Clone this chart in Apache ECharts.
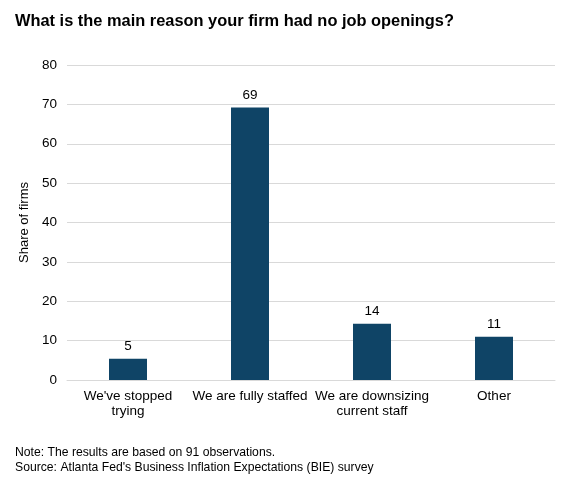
<!DOCTYPE html>
<html>
<head>
<meta charset="utf-8">
<script src="https://cdn.jsdelivr.net/npm/echarts@6/dist/echarts.min.js"></script>
<style>
  html, body { margin: 0; padding: 0; background: #fff; }
  #container { width: 574px; height: 488px; }
</style>
</head>
<body>
<div id="container"></div>
<script>
// categories and values (share of firms, %)
const categories = ["We've stopped\ntrying", 'We are fully staffed', 'We are downsizing\ncurrent staff', 'Other']
const shares = [5.4, 69.2, 14.3, 11.0]
const yTicks = { min: 0, max: 80, interval: 10 }

const font = '"Liberation Sans", Arial, sans-serif'
const myChart = echarts.init(document.getElementById('container'))

const option = {
  backgroundColor: '#fff',
  textStyle: { fontFamily: font },
  title: [
    {
      text: 'What is the main reason your firm had no job openings?',
      left: 10,
      top: 8,
      textStyle: { fontSize: 16.4, fontWeight: 'bold', color: '#000', fontFamily: font }
    },
    {
      text: "Note: The results are based on 91 observations.\nSource: Atlanta Fed's Business Inflation Expectations (BIE) survey",
      left: 10,
      top: 440,
      textStyle: { fontSize: 12.2, fontWeight: 'normal', color: '#000', lineHeight: 15, fontFamily: font }
    }
  ],
  grid: { left: 67, right: 19, top: 65, bottom: 108, containLabel: false },
  xAxis: {
    type: 'category',
    data: categories,
    axisLine: { lineStyle: { color: '#d9d9d9' } },
    axisTick: { show: false },
    axisLabel: { color: '#000', fontSize: 13.5, lineHeight: 15, margin: 9, interval: 0 }
  },
  yAxis: {
    type: 'value',
    min: yTicks.min,
    max: yTicks.max,
    interval: yTicks.interval,
    name: 'Share of firms',
    nameLocation: 'middle',
    nameGap: 34,
    nameTextStyle: { color: '#000', fontSize: 13 },
    axisLine: { show: false },
    axisTick: { show: false },
    axisLabel: { color: '#000', fontSize: 13.5, margin: 10 },
    splitLine: { lineStyle: { color: '#d9d9d9' } }
  },
  series: [
    {
      type: 'bar',
      data: shares,
      barWidth: 38,
      itemStyle: { color: '#0f4466' },
      label: {
        show: true,
        position: 'top',
        distance: 5,
        color: '#000',
        fontSize: 13.5,
        formatter: (p) => Math.round(p.value)
      }
    }
  ]
}

myChart.setOption(option)
</script>
</body>
</html>
